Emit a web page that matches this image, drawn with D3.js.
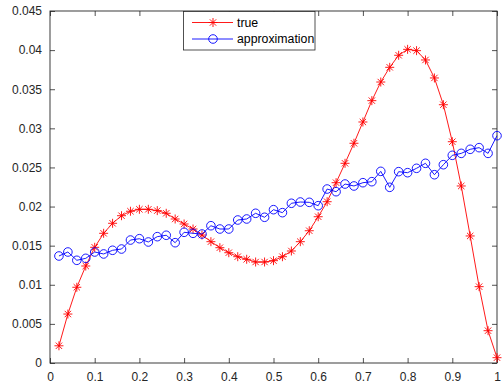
<!DOCTYPE html>
<html><head><meta charset="utf-8">
<script src="https://cdn.jsdelivr.net/npm/d3@7"></script>
<style>body{margin:0;background:#fff;} text{font-family:"Liberation Sans",Arial,Helvetica,sans-serif;}</style>
</head><body>
<svg id="c" width="503" height="389"></svg>
<script>
const xValues = [0.02,0.04,0.06,0.08,0.10,0.12,0.14,0.16,0.18,0.20,0.22,0.24,0.26,0.28,0.30,0.32,0.34,0.36,0.38,0.40,0.42,0.44,0.46,0.48,0.50,0.52,0.54,0.56,0.58,0.60,0.62,0.64,0.66,0.68,0.70,0.72,0.74,0.76,0.78,0.80,0.82,0.84,0.86,0.88,0.90,0.92,0.94,0.96,0.98,1.00];
const trueValues = [0.0022,0.00626,0.00968,0.0124,0.01479,0.01658,0.01786,0.01883,0.0194,0.01965,0.01965,0.01948,0.01914,0.01841,0.01777,0.01713,0.01636,0.01551,0.01474,0.0141,0.01359,0.01326,0.01291,0.01291,0.01308,0.01359,0.01432,0.01551,0.01691,0.0187,0.02062,0.02305,0.02553,0.02809,0.03081,0.03354,0.03592,0.0378,0.03934,0.0401,0.03993,0.03874,0.03644,0.03302,0.02829,0.02263,0.01624,0.00976,0.00413,0.00068];
const approxValues = [0.01368,0.01419,0.01313,0.01338,0.01419,0.01394,0.01441,0.01457,0.01572,0.01589,0.01547,0.01615,0.01633,0.01538,0.01671,0.01658,0.01649,0.01755,0.01713,0.01713,0.01828,0.01841,0.01914,0.01863,0.0196,0.01922,0.02042,0.02058,0.02054,0.02011,0.02224,0.0219,0.02288,0.02263,0.02305,0.02318,0.0245,0.02246,0.02446,0.02433,0.02489,0.02553,0.02407,0.02535,0.02655,0.0268,0.02732,0.02753,0.0268,0.02906];
const xTicks = [0,0.1,0.2,0.3,0.4,0.5,0.6,0.7,0.8,0.9,1];
const yTicks = [0,0.005,0.01,0.015,0.02,0.025,0.03,0.035,0.04,0.045];
const legendLabels = ["true","approximation"];

const svg = d3.select("#c");
const L=50, R=497, T=11, B=363;
const x = d3.scaleLinear().domain([0,1]).range([L,R]);
const y = d3.scaleLinear().domain([0,0.045]).range([B,T]);
const axisColor = "#262626";
const fmt = d => d===0 ? "0" : String(+d.toFixed(3));

function styleAxis(g, showLabels){
  g.select(".domain").remove();
  g.selectAll("line").attr("stroke",axisColor).attr("stroke-width",0.8);
  g.selectAll("text").attr("fill",axisColor).attr("font-size",12);
  if(!showLabels) g.selectAll("text").remove();
}
svg.append("g").attr("transform",`translate(0,${B})`)
  .call(d3.axisBottom(x).tickValues(xTicks).tickSize(-5).tickPadding(9).tickFormat(fmt))
  .call(g=>styleAxis(g,true));
svg.append("g").attr("transform",`translate(0,${T})`)
  .call(d3.axisTop(x).tickValues(xTicks).tickSize(-5).tickFormat(fmt))
  .call(g=>styleAxis(g,false));
svg.append("g").attr("transform",`translate(${L},0)`)
  .call(d3.axisLeft(y).tickValues(yTicks).tickSize(-5).tickPadding(8).tickFormat(fmt))
  .call(g=>styleAxis(g,true));
svg.append("g").attr("transform",`translate(${R},0)`)
  .call(d3.axisRight(y).tickValues(yTicks).tickSize(-5).tickFormat(fmt))
  .call(g=>styleAxis(g,false));
svg.append("rect").attr("x",L).attr("y",T).attr("width",R-L).attr("height",B-T)
  .attr("fill","none").attr("stroke",axisColor).attr("stroke-width",0.9);

const line = d3.line().x((d,i)=>x(xValues[i])).y(d=>y(d));
const red="#ff0000", blue="#0000ff";

function star(g, cx, cy, color){
  const r=4.5;
  const p=[];
  for(let k=0;k<4;k++){
    const a=k*Math.PI/4;
    p.push(`M${cx-r*Math.cos(a)},${cy-r*Math.sin(a)}L${cx+r*Math.cos(a)},${cy+r*Math.sin(a)}`);
  }
  g.append("path").attr("d",p.join("")).attr("stroke",color).attr("stroke-width",0.9).attr("fill","none");
}

svg.append("path").datum(trueValues).attr("d",line).attr("fill","none").attr("stroke",red).attr("stroke-width",0.9);
const gs = svg.append("g");
trueValues.forEach((v,i)=>star(gs,x(xValues[i]),y(v),red));

svg.append("path").datum(approxValues).attr("d",line).attr("fill","none").attr("stroke",blue).attr("stroke-width",0.9);
svg.append("g").selectAll("circle").data(approxValues).join("circle")
  .attr("cx",(d,i)=>x(xValues[i])).attr("cy",d=>y(d)).attr("r",4.3)
  .attr("fill","none").attr("stroke",blue).attr("stroke-width",0.9);

// legend
const lg = svg.append("g");
lg.append("rect").attr("x",183.5).attr("y",11.5).attr("width",131.5).attr("height",38.5)
  .attr("fill","#fff").attr("stroke",axisColor).attr("stroke-width",0.8);
const rows=[22.5,39];
[red,blue].forEach((c,i)=>{
  lg.append("line").attr("x1",192).attr("x2",233).attr("y1",rows[i]).attr("y2",rows[i]).attr("stroke",c).attr("stroke-width",0.9);
  if(i===0) star(lg,213,rows[i],c);
  else lg.append("circle").attr("cx",213).attr("cy",rows[i]).attr("r",4.3).attr("fill","none").attr("stroke",c).attr("stroke-width",0.9);
  lg.append("text").attr("x",237).attr("y",rows[i]+4).attr("font-size",12.3).attr("fill","#000").text(legendLabels[i]);
});
</script>
</body></html>
